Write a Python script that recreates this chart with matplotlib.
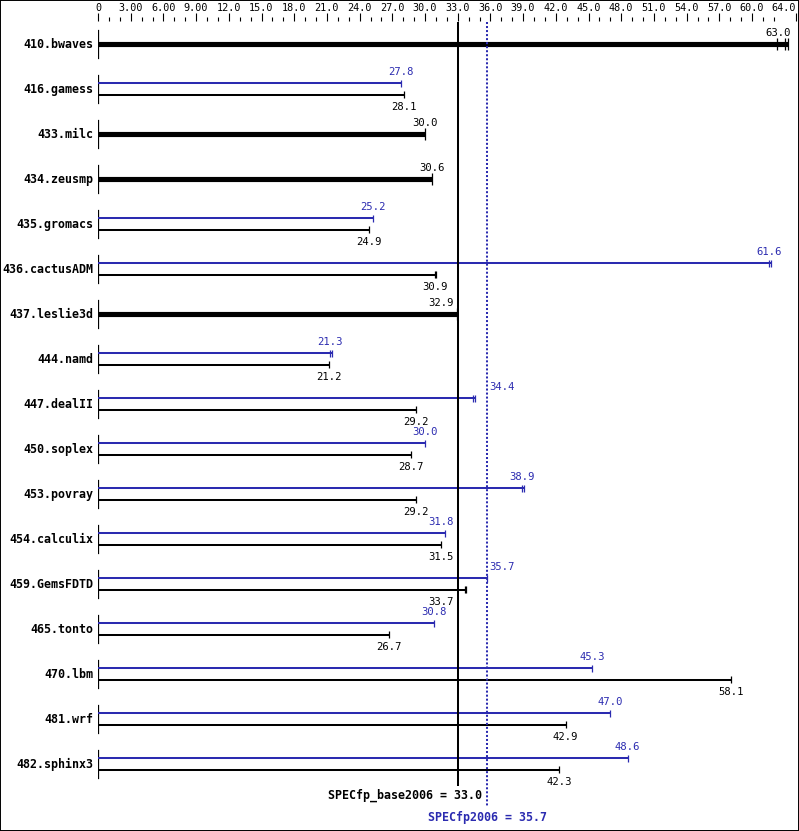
import matplotlib
matplotlib.use('Agg')
import matplotlib.pyplot as plt
from matplotlib.patches import Rectangle
from matplotlib.ticker import FixedLocator

# benchmark data (SPECfp2006)
names = ['410.bwaves', '416.gamess', '433.milc', '434.zeusmp', '435.gromacs',
         '436.cactusADM', '437.leslie3d', '444.namd', '447.dealII', '450.soplex',
         '453.povray', '454.calculix', '459.GemsFDTD', '465.tonto', '470.lbm',
         '481.wrf', '482.sphinx3']
base = [63.0, 28.1, 30.0, 30.6, 24.9, 30.9, 32.9, 21.2, 29.2, 28.7, 29.2,
        31.5, 33.7, 26.7, 58.1, 42.9, 42.3]
peak = [None, 27.8, None, None, 25.2, 61.6, None, 21.3, 34.4, 30.0, 38.9,
        31.8, 35.7, 30.8, 45.3, 47.0, 48.6]
# individual run results where they differ visibly from the median
base_runs = {0: [62.3, 63.0, 63.3], 5: [30.9, 31.05], 12: [33.7, 33.8]}
peak_runs = {5: [61.6, 61.75], 7: [21.3, 21.45], 8: [34.4, 34.55], 10: [38.9, 39.05]}

base_score = 33.0
peak_score = 35.7
base_label = 'SPECfp_base2006 = 33.0'
peak_label = 'SPECfp2006 = 35.7'

major_ticks = [0, 3, 6, 9, 12, 15, 18, 21, 24, 27, 30, 33, 36, 39, 42, 45,
               48, 51, 54, 57, 60, 64]

BLUE = '#2b2bb0'
BLACK = 'black'
mono = 'DejaVu Sans Mono'

W, H = 799, 831
fig = plt.figure(figsize=(W / 100, H / 100), dpi=100)
x0, x1 = 98, 98 + 64 * 10.9
top, bottom = 21, 831
ax = fig.add_axes([x0 / W, 0, (x1 - x0) / W, (bottom - top) / H])
ax.set_xlim(0, 64)
# row i sits at pixel 44 + 45*i
ax.set_ylim((bottom - 44) / 45, (top - 44) / 45)
for s in ax.spines.values():
    s.set_visible(False)
ax.set_yticks([])

ax.xaxis.tick_top()
ax.xaxis.set_major_locator(FixedLocator(major_ticks))
ax.xaxis.set_minor_locator(FixedLocator([v for v in range(1, 64) if v % 3 != 0]))
ax.set_xticklabels(['0' if v == 0 else ('%.2f' % v if v < 10 else '%.1f' % v)
                    for v in major_ticks], fontfamily=mono, fontsize=7.3)
ax.tick_params(axis='x', which='major', direction='out', length=5.8, width=0.8, pad=0)
ax.tick_params(axis='x', which='minor', direction='out', length=2.9, width=0.8)
ax.get_xticklabels()[-1].set_horizontalalignment('right')

px = 1 / 45  # one pixel in row units
thin = 1.45
thick = 3.7
vsize = 7.6
nsize = 8.4


def label_x(v):
    # centre the label on the bar end, move it clear of the summary lines
    half = 1.25
    lo, hi = v - half, v + half
    if hi > 64:
        return 63.6, 'right'
    hits = (lo < base_score < hi) or (lo < peak_score < hi) or (v - 0.2 < peak_score < v + 1.6)
    if hits:
        if v < (base_score + peak_score) / 2:
            return base_score - 0.4, 'right'
        return peak_score + 0.2, 'left'
    return v, 'center'


def draw_bar(y, v, runs, color, lw, cap):
    end = max(runs) if runs else v
    ax.plot([0, end], [y, y], color=color, lw=lw, solid_capstyle='butt')
    for r in (runs or [v]):
        ax.plot([r, r], [y - cap * px, y + cap * px], color=color, lw=0.9,
                solid_capstyle='butt')


for i, name in enumerate(names):
    ax.plot([0, 0], [i - 14 * px, i + 14 * px], color=BLACK, lw=0.9)
    ax.text(-0.45, i, name, ha='right', va='center', fontfamily=mono,
            fontweight='bold', fontsize=nsize)
    b = base[i]
    p = peak[i]
    if p is None:
        draw_bar(i, b, base_runs.get(i), BLACK, thick, 6)
        lx, ha = label_x(b)
        ax.text(lx, i - 11.5 * px, '%.1f' % b, ha=ha, va='center', fontfamily=mono,
                fontsize=vsize, color=BLACK)
    else:
        yp = i - 6 * px
        yb = i + 5.5 * px
        draw_bar(yp, p, peak_runs.get(i), BLUE, thin, 3.5)
        draw_bar(yb, b, base_runs.get(i), BLACK, thin, 3.5)
        lx, ha = label_x(p)
        ax.text(lx, yp - 11.5 * px, '%.1f' % p, ha=ha, va='center', fontfamily=mono,
                fontsize=vsize, color=BLUE)
        lx, ha = label_x(b)
        ax.text(lx, yb + 12 * px, '%.1f' % b, ha=ha, va='center', fontfamily=mono,
                fontsize=vsize, color=BLACK)

# overall score lines
ax.plot([base_score, base_score], [(top + 1 - 44) / 45, (786 - 44) / 45],
        color=BLACK, lw=1.45, solid_capstyle='butt')
ax.plot([peak_score, peak_score], [(top + 1 - 44) / 45, (806 - 44) / 45],
        color=BLUE, lw=1.45, linestyle=(0, (1, 1)))
ax.text(peak_score - 0.5, (795 - 44) / 45, base_label, ha='right', va='center',
        fontfamily=mono, fontweight='bold', fontsize=nsize, color=BLACK)
ax.text(peak_score, (817 - 44) / 45, peak_label, ha='center', va='center',
        fontfamily=mono, fontweight='bold', fontsize=nsize, color=BLUE)

# frame round the whole picture
fig.patches.append(Rectangle((0, 0), 1, 1, transform=fig.transFigure, fill=False,
                             edgecolor='black', lw=1.4))

fig.savefig('out.png', dpi=100)
